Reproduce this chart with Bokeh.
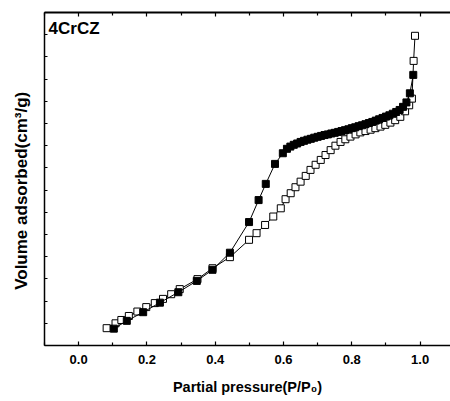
from bokeh.plotting import figure
from bokeh.models import (Range1d, LinearAxis, FixedTicker, PrintfTickFormatter,
                          Label, CustomJSTickFormatter)
from bokeh.embed import file_html
from bokeh.resources import INLINE

# Adsorption branch (filled squares)
ads_x = [0.103, 0.141, 0.189, 0.238, 0.292, 0.346, 0.392, 0.443, 0.499, 0.527,
         0.548, 0.575, 0.598, 0.61, 0.62, 0.63, 0.64, 0.65, 0.66, 0.67, 0.68,
         0.69, 0.70, 0.71, 0.72, 0.73, 0.74, 0.75, 0.76, 0.77, 0.78, 0.79, 0.80,
         0.81, 0.82, 0.83, 0.84, 0.85, 0.86, 0.87, 0.88, 0.89, 0.90, 0.91, 0.92,
         0.93, 0.94, 0.95, 0.96, 0.97, 0.98]
ads_y = [0.76, 1.11, 1.50, 1.93, 2.40, 2.91, 3.41, 4.18, 5.56, 6.55,
         7.28, 8.18, 8.66, 8.86, 8.96, 9.04, 9.10, 9.17, 9.22, 9.27, 9.31,
         9.36, 9.40, 9.44, 9.48, 9.51, 9.55, 9.58, 9.62, 9.66, 9.70, 9.74, 9.79,
         9.83, 9.88, 9.92, 9.97, 10.02, 10.07, 10.13, 10.19, 10.25, 10.31, 10.37, 10.44,
         10.52, 10.61, 10.75, 10.95, 11.36, 12.19]

# Desorption branch (open squares)
des_x = [0.082, 0.108, 0.125, 0.147, 0.172, 0.198, 0.223, 0.247, 0.271, 0.296,
         0.348, 0.392, 0.443, 0.499, 0.521, 0.546, 0.570, 0.592, 0.606, 0.621,
         0.635, 0.650, 0.665, 0.679, 0.694, 0.709, 0.723, 0.738, 0.752, 0.767,
         0.781, 0.796, 0.811, 0.825, 0.840, 0.855, 0.869, 0.884, 0.898, 0.913,
         0.927, 0.942, 0.956, 0.968, 0.976, 0.981, 0.985]
des_y = [0.78, 1.00, 1.15, 1.33, 1.53, 1.73, 1.91, 2.10, 2.31, 2.54,
         2.99, 3.48, 3.98, 4.76, 5.06, 5.43, 5.81, 6.18, 6.59, 6.86,
         7.13, 7.38, 7.64, 7.91, 8.14, 8.36, 8.58, 8.80, 9.00, 9.17,
         9.29, 9.41, 9.51, 9.60, 9.66, 9.72, 9.79, 9.86, 9.94, 10.04,
         10.15, 10.30, 10.55, 10.82, 11.12, 12.82, 13.95]

x_major = [0.0, 0.2, 0.4, 0.6, 0.8, 1.0]
x_minor = [-0.1, 0.1, 0.3, 0.5, 0.7, 0.9]
y_ticks = list(range(0, 16))

FONT = "Liberation Sans"

p = figure(width=450, height=400, output_backend="svg", toolbar_location=None,
           title_location=None,
           x_range=Range1d(-0.1, 1.089), y_range=Range1d(0, 15),
           min_border_left=44, min_border_right=0, min_border_top=12,
           min_border_bottom=55, x_axis_location=None, y_axis_location=None)
p.outline_line_color = None
p.grid.visible = False
p.background_fill_color = "white"
p.border_fill_color = "white"

# bottom axis
xa = LinearAxis(ticker=FixedTicker(ticks=x_major, minor_ticks=x_minor),
                formatter=PrintfTickFormatter(format="%.1f"))
xa.axis_label = "Partial pressure(P/P\u2080)"
xa.axis_label_text_font = FONT
xa.axis_label_text_font_style = "bold"
xa.axis_label_text_font_size = "14.5px"
xa.axis_label_text_color = "black"
xa.axis_label_standoff = 12
xa.major_label_text_font = FONT
xa.major_label_text_font_style = "bold"
xa.major_label_text_font_size = "13px"
xa.major_label_text_color = "black"
xa.major_label_standoff = 9
xa.major_tick_in = 4
xa.major_tick_out = 0
xa.minor_tick_in = 3
xa.minor_tick_out = 0
xa.axis_line_width = 1.5
xa.major_tick_line_width = 1.2
xa.minor_tick_line_width = 1.2
p.add_layout(xa, "below")

# top axis (ticks only)
ta = LinearAxis(ticker=FixedTicker(ticks=x_major, minor_ticks=x_minor),
                formatter=CustomJSTickFormatter(code="return '';"))
ta.major_label_standoff = 0
ta.major_tick_in = 4
ta.major_tick_out = 0
ta.minor_tick_in = 3
ta.minor_tick_out = 0
ta.axis_line_width = 2
ta.axis_line_color = "black"
ta.major_tick_line_width = 1.2
ta.minor_tick_line_width = 1.2
p.add_layout(ta, "above")

# left axis
ya = LinearAxis(ticker=FixedTicker(ticks=y_ticks, minor_ticks=[]),
                formatter=CustomJSTickFormatter(code="return '';"))
ya.major_label_standoff = 0
ya.major_tick_in = 3
ya.major_tick_out = 0
ya.axis_line_width = 1.5
ya.major_tick_line_width = 1.2
ya.axis_label = "Volume adsorbed(cm\u00b3/g)" + "\u00a0" * 5
ya.axis_label_text_font = FONT
ya.axis_label_text_font_style = "bold"
ya.axis_label_text_font_size = "17px"
ya.axis_label_text_color = "black"
ya.axis_label_standoff = 14
p.add_layout(ya, "left")

# desorption (open)
p.line(des_x, des_y, line_color="black", line_width=1)
p.scatter(des_x, des_y, marker="square", size=7, fill_color="white",
          line_color="black", line_width=1)
# adsorption (filled)
p.line(ads_x, ads_y, line_color="black", line_width=1)
p.scatter(ads_x, ads_y, marker="square", size=7, fill_color="black",
          line_color="black", line_width=1)

p.add_layout(Label(x=-0.088, y=14.3, text="4CrCZ", text_font=FONT,
                   text_font_style="bold", text_font_size="17px",
                   text_baseline="alphabetic", text_color="black"))

open("out.html", "w").write(file_html(p, INLINE))
